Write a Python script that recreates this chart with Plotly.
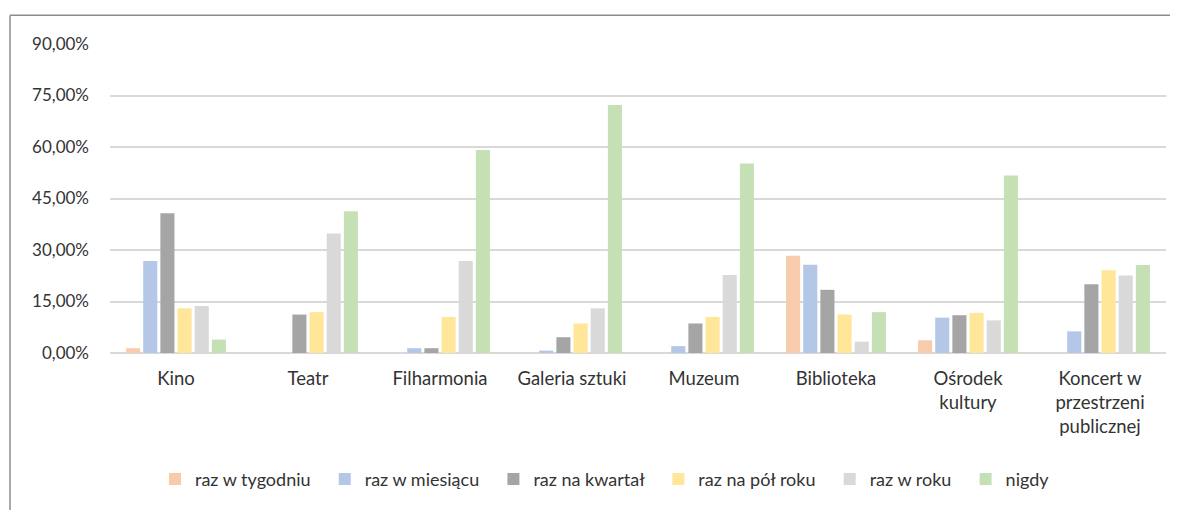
import plotly.graph_objects as go

categories = ["Kino", "Teatr", "Filharmonia", "Galeria sztuki", "Muzeum",
              "Biblioteka", "Ośrodek<br>kultury", "Koncert w<br>przestrzeni<br>publicznej"]

raz_w_tygodniu = [1.4, 0.0, 0.0, 0.0, 0.0, 28.3, 3.7, 0.0]
raz_w_miesiacu = [26.8, 0.0, 1.4, 0.7, 2.0, 25.7, 10.3, 6.3]
raz_na_kwartal = [40.7, 11.2, 1.4, 4.6, 8.6, 18.4, 11.0, 20.0]
raz_na_pol_roku = [13.0, 11.9, 10.5, 8.6, 10.5, 11.2, 11.7, 24.1]
raz_w_roku = [13.7, 34.8, 26.8, 13.0, 22.7, 3.3, 9.5, 22.6]
nigdy = [3.9, 41.3, 59.1, 72.2, 55.2, 11.9, 51.7, 25.6]

series_names = ["raz w tygodniu", "raz w miesiącu", "raz na kwartał",
                "raz na pół roku", "raz w roku", "nigdy"]
series_values = [raz_w_tygodniu, raz_w_miesiacu, raz_na_kwartal,
                 raz_na_pol_roku, raz_w_roku, nigdy]
colors = ["#F8CBAD", "#B4C7E7", "#A5A5A5", "#FFE699", "#D9D9D9", "#C5E0B4"]

y_ticks = [0, 15, 30, 45, 60, 75, 90]
y_ticktext = [f"{v:.2f}".replace(".", ",") + "%" for v in y_ticks]

FONT = "Lato"
TXT = "#333333"
PAD = "\u00a0\u00a0"  # a little extra spacing between legend entries

fig = go.Figure()
for i, (name, vals, col) in enumerate(zip(series_names, series_values, colors)):
    label = name + (PAD if i < len(series_names) - 1 else "")
    fig.add_trace(go.Bar(
        name=label, x=categories, y=vals,
        marker=dict(color=col, line=dict(width=0)),
    ))

# page has an 8px body margin; work in page pixels and convert
OFF = 8
W, H = 1170, 502
PL, PR, PT, PB = 110, 1166, 44, 355   # plot area in page pixels
L = PL - OFF
R = W - (PR - OFF)
T = PT - OFF
B = H - (PB - OFF)
pw, ph = PR - PL, PB - PT

def px_x(p):
    return (p - PL) / pw

def px_y(p):
    return (PB - p) / ph

fig.update_layout(
    width=W, height=H,
    margin=dict(l=L, r=R, t=T, b=B),
    paper_bgcolor="white", plot_bgcolor="white",
    barmode="group", bargap=0.22, bargroupgap=0.18,
    font=dict(family=FONT, size=18, color=TXT),
    showlegend=True,
    legend=dict(orientation="h", x=px_x(605), xanchor="center",
                y=px_y(482), yanchor="middle",
                font=dict(family=FONT, size=18, color=TXT),
                itemclick=False, itemdoubleclick=False),
    xaxis=dict(showgrid=False, showline=False, ticks="",
               tickfont=dict(family=FONT, size=18.5, color=TXT),
               ticklabelstandoff=12),
    yaxis=dict(range=[0, 90], tickvals=y_ticks, ticktext=y_ticktext,
               showgrid=True, gridcolor="#D9D9D9", gridwidth=1.5,
               zeroline=True, zerolinecolor="#D9D9D9", zerolinewidth=1.5,
               showline=False, ticks="",
               tickfont=dict(family=FONT, size=17, color=TXT),
               ticklabelstandoff=20),
    shapes=[
        dict(type="line", xref="paper", yref="paper",
             x0=px_x(10), x1=px_x(10), y0=px_y(15), y1=px_y(530),
             line=dict(color="#8c8c8c", width=1.5)),
        dict(type="line", xref="paper", yref="paper",
             x0=px_x(10), x1=px_x(1200), y0=px_y(15), y1=px_y(15),
             line=dict(color="#8c8c8c", width=1.5)),
    ],
)

fig.write_html("out.html")
